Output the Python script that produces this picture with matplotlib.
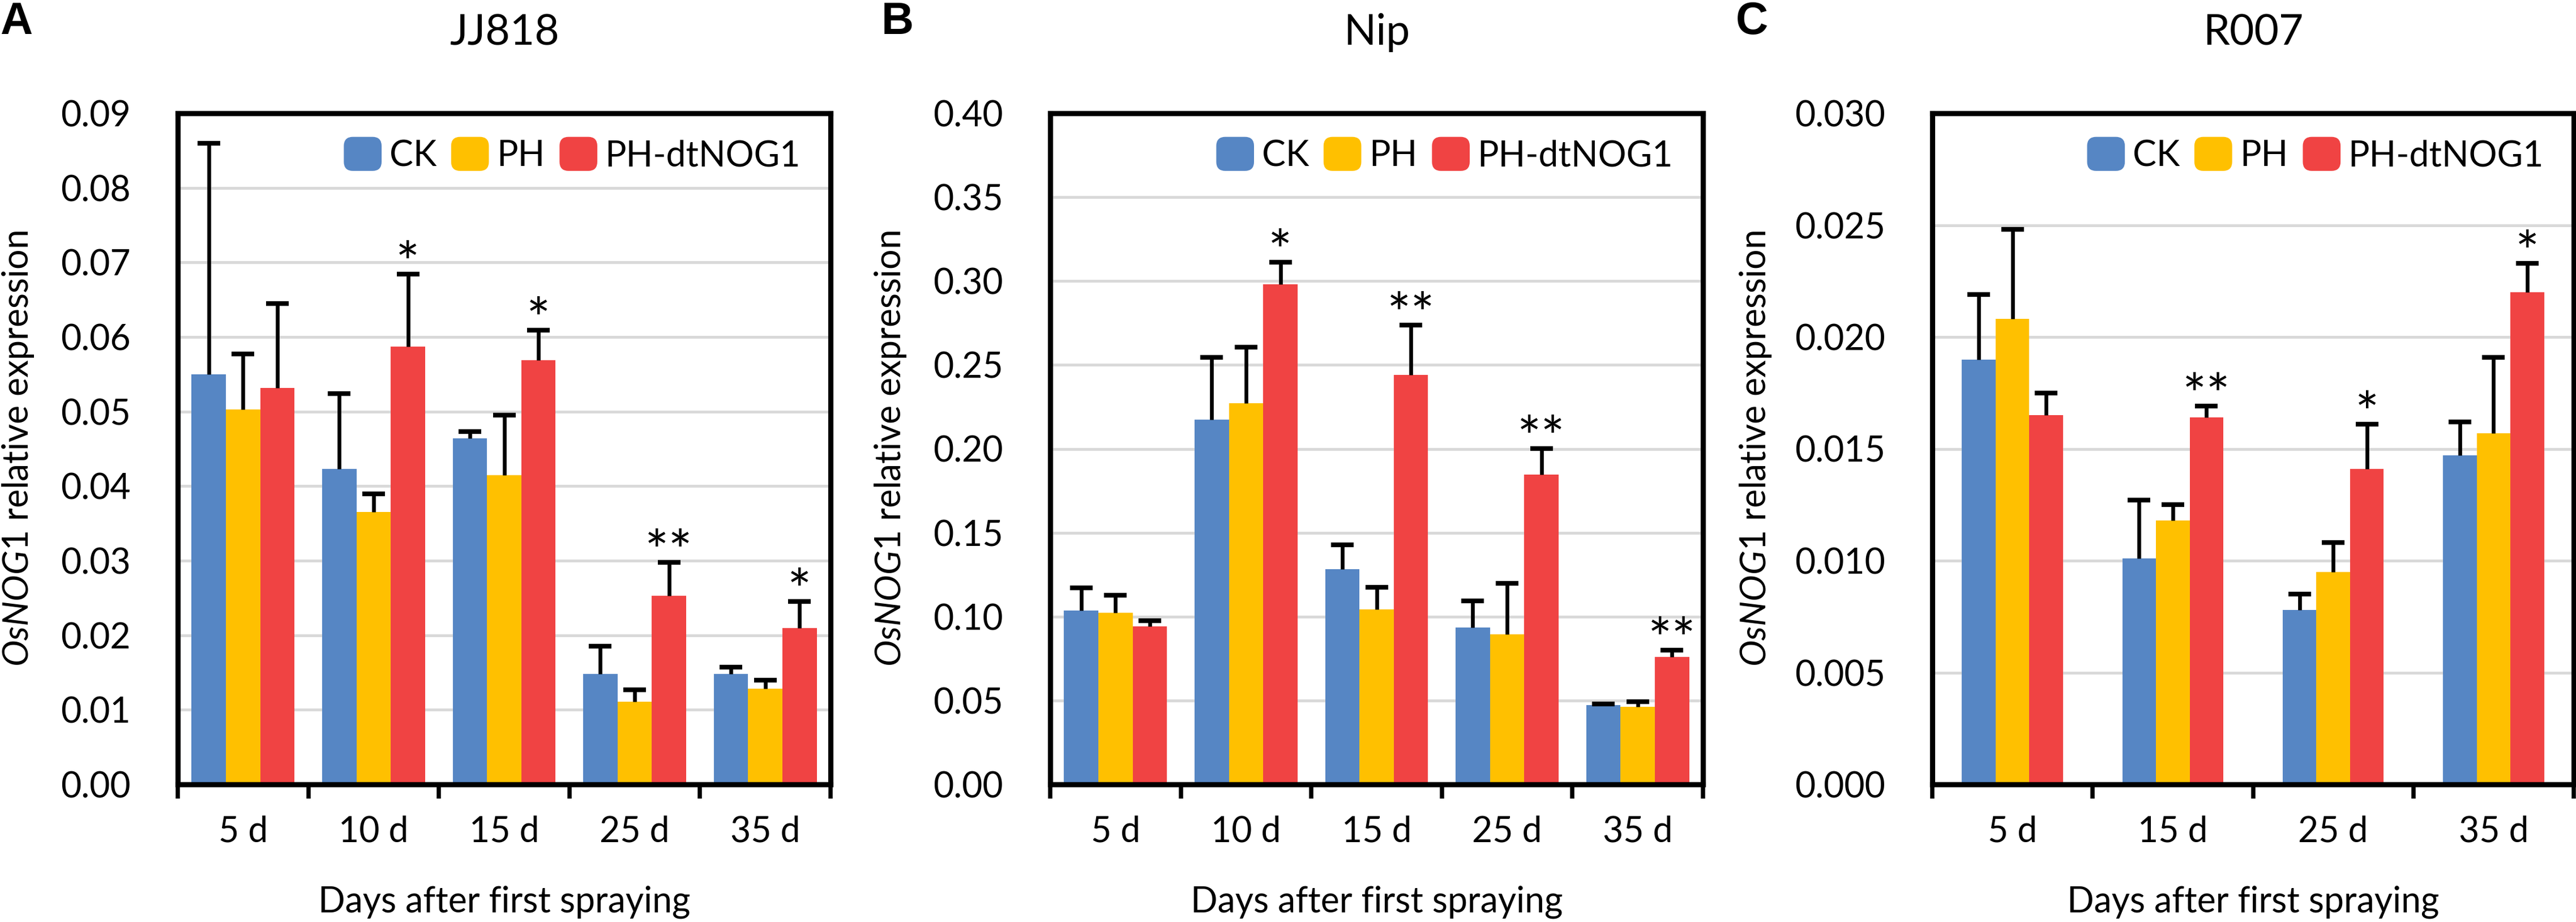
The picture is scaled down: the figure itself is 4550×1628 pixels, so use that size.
import numpy as np
import matplotlib
matplotlib.use('Agg')
import matplotlib.pyplot as plt
from matplotlib import font_manager
from matplotlib.patches import FancyBboxPatch, Patch
from matplotlib.legend_handler import HandlerPatch
from matplotlib.ticker import FormatStrFormatter, NullFormatter

plt.rcParams['font.family'] = ['Lato', 'DejaVu Sans']
plt.rcParams['mathtext.fontset'] = 'custom'
plt.rcParams['mathtext.rm'] = 'Lato'

# italic face for the gene name: take the first family that really has one
it_font = 'DejaVu Sans:italic'
for fam in ['Lato', 'Open Sans', 'Noto Sans', 'Liberation Sans']:
    path = font_manager.findfont(font_manager.FontProperties(family=fam, style='italic'))
    if 'italic' in path.lower() or 'oblique' in path.lower():
        it_font = fam + ':italic'
        break
plt.rcParams['mathtext.it'] = it_font

series = ['CK', 'PH', 'PH-dtNOG1']
colors = ['#5686C4', '#FFC000', '#F04343']

# A - JJ818
jj_days = ['5 d', '10 d', '15 d', '25 d', '35 d']
jj_ck = [0.0550, 0.0423, 0.0464, 0.0148, 0.0148]
jj_ck_sd = [0.0310, 0.0101, 0.0009, 0.0037, 0.0009]
jj_ph = [0.0503, 0.0365, 0.0415, 0.0111, 0.0128]
jj_ph_sd = [0.0074, 0.0025, 0.0080, 0.0016, 0.0012]
jj_nog = [0.0532, 0.0587, 0.0569, 0.0253, 0.0210]
jj_nog_sd = [0.0113, 0.0097, 0.0040, 0.0045, 0.0035]
jj_stars = ['', '*', '*', '**', '*']

# B - Nip
nip_days = ['5 d', '10 d', '15 d', '25 d', '35 d']
nip_ck = [0.1036, 0.2174, 0.1283, 0.0934, 0.0472]
nip_ck_sd = [0.0134, 0.0370, 0.0144, 0.0158, 0.0007]
nip_ph = [0.1022, 0.2273, 0.1043, 0.0895, 0.0462]
nip_ph_sd = [0.0106, 0.0334, 0.0130, 0.0303, 0.0031]
nip_nog = [0.0941, 0.2981, 0.2442, 0.1846, 0.0761]
nip_nog_sd = [0.0035, 0.0130, 0.0296, 0.0155, 0.0039]
nip_stars = ['', '*', '**', '**', '**']

# C - R007
r_days = ['5 d', '15 d', '25 d', '35 d']
r_ck = [0.0190, 0.0101, 0.0078, 0.0147]
r_ck_sd = [0.0029, 0.0026, 0.0007, 0.0015]
r_ph = [0.0208, 0.0118, 0.0095, 0.0157]
r_ph_sd = [0.0040, 0.0007, 0.0013, 0.0034]
r_nog = [0.0165, 0.0164, 0.0141, 0.0220]
r_nog_sd = [0.0010, 0.0005, 0.0020, 0.0013]
r_stars = ['', '**', '*', '*']

FS = 15
W, H = 4550, 1628


def round_box(legend, orig_handle, xdescent, ydescent, width, height, fontsize):
    return FancyBboxPatch((-xdescent, -ydescent), width, height,
                          boxstyle='round,pad=0,rounding_size=%f' % (0.22 * width))


def draw_panel(ax, days, means, sds, stars, ymax, ystep, fmt, width):
    x = np.arange(len(days))
    for i in range(3):
        pos = x + (i - 1) * width
        tops = np.array(means[i]) + np.array(sds[i])
        ax.bar(pos, means[i], width, color=colors[i], zorder=2)
        # upper error only, cap only at the top
        ax.errorbar(pos, means[i], yerr=[np.zeros(len(x)), sds[i]], fmt='none',
                    ecolor='black', elinewidth=1.6, capsize=0, zorder=3)
        ax.plot(pos, tops, ls='none', marker='_', markersize=9.5,
                markeredgewidth=2.0, color='black', zorder=3)
    tops = np.array(means[2]) + np.array(sds[2])
    for xi, t, st in zip(x + width, tops, stars):
        if st:
            ax.annotate(st, (xi, t), xytext=(0, 3), textcoords='offset points',
                        ha='center', va='center', fontsize=24)

    ax.set_xlim(-0.5, len(days) - 0.5)
    ax.set_ylim(0, ymax)
    ax.set_yticks(np.arange(0, ymax + ystep / 2, ystep))
    ax.yaxis.set_major_formatter(FormatStrFormatter(fmt))
    ax.set_xticks(np.arange(len(days) + 1) - 0.5)
    ax.xaxis.set_major_formatter(NullFormatter())
    ax.set_xticks(x, minor=True)
    ax.set_xticklabels(days, minor=True)
    ax.tick_params(axis='x', which='major', length=6, width=1.8, direction='out')
    ax.tick_params(axis='x', which='minor', length=0, pad=13, labelsize=FS)
    ax.tick_params(axis='y', length=0, pad=20, labelsize=FS)
    ax.grid(axis='y', color='#D9D9D9', linewidth=1.2)
    ax.set_axisbelow(True)
    for s in ax.spines.values():
        s.set_linewidth(2.2)

    handles = [Patch(color=c, label=n) for c, n in zip(colors, series)]
    ax.legend(handles=handles, loc='upper right', ncol=3, frameon=False,
              fontsize=FS, handlelength=1.0, handleheight=1.0, handletextpad=0.25,
              columnspacing=0.45, borderaxespad=0.3, bbox_to_anchor=(0.992, 1),
              handler_map={Patch: HandlerPatch(patch_func=round_box)})


fig = plt.figure(figsize=(W / 300, H / 300), dpi=300)

panels = [
    ('A', 'JJ818', 314, 1467, 0, jj_days, [jj_ck, jj_ph, jj_nog],
     [jj_ck_sd, jj_ph_sd, jj_nog_sd], jj_stars, 0.09, 0.01, '%.2f', 0.263),
    ('B', 'Nip', 1855, 3008, 1557, nip_days, [nip_ck, nip_ph, nip_nog],
     [nip_ck_sd, nip_ph_sd, nip_nog_sd], nip_stars, 0.40, 0.05, '%.2f', 0.263),
    ('C', 'R007', 3413, 4546, 3066, r_days, [r_ck, r_ph, r_nog],
     [r_ck_sd, r_ph_sd, r_nog_sd], r_stars, 0.030, 0.005, '%.3f', 0.21),
]

top, bottom = 200, 1385
for letter, title, x0, x1, lx, days, means, sds, stars, ymax, ystep, fmt, bw in panels:
    ax = fig.add_axes([x0 / W, 1 - bottom / H, (x1 - x0) / W, (bottom - top) / H])
    draw_panel(ax, days, means, sds, stars, ymax, ystep, fmt, bw)
    ax.text(-282 / (x1 - x0) if letter != 'C' else -312 / (x1 - x0), 0.5,
            r'$\it{OsNOG1}$ relative expression', rotation=90, ha='center',
            va='center', transform=ax.transAxes, fontsize=FS)
    ax.text(0.5, -0.175, 'Days after first spraying', ha='center', va='center',
            transform=ax.transAxes, fontsize=FS)
    fig.text((x0 + x1) / 2 / W, 1 - 58 / H, title, ha='center', va='center', fontsize=18)
    fig.text(lx / W, 1 - 2 / H, letter, ha='left', va='top', fontsize=19,
             fontweight='bold', family='Liberation Sans')

fig.savefig('out.png', dpi=300)
